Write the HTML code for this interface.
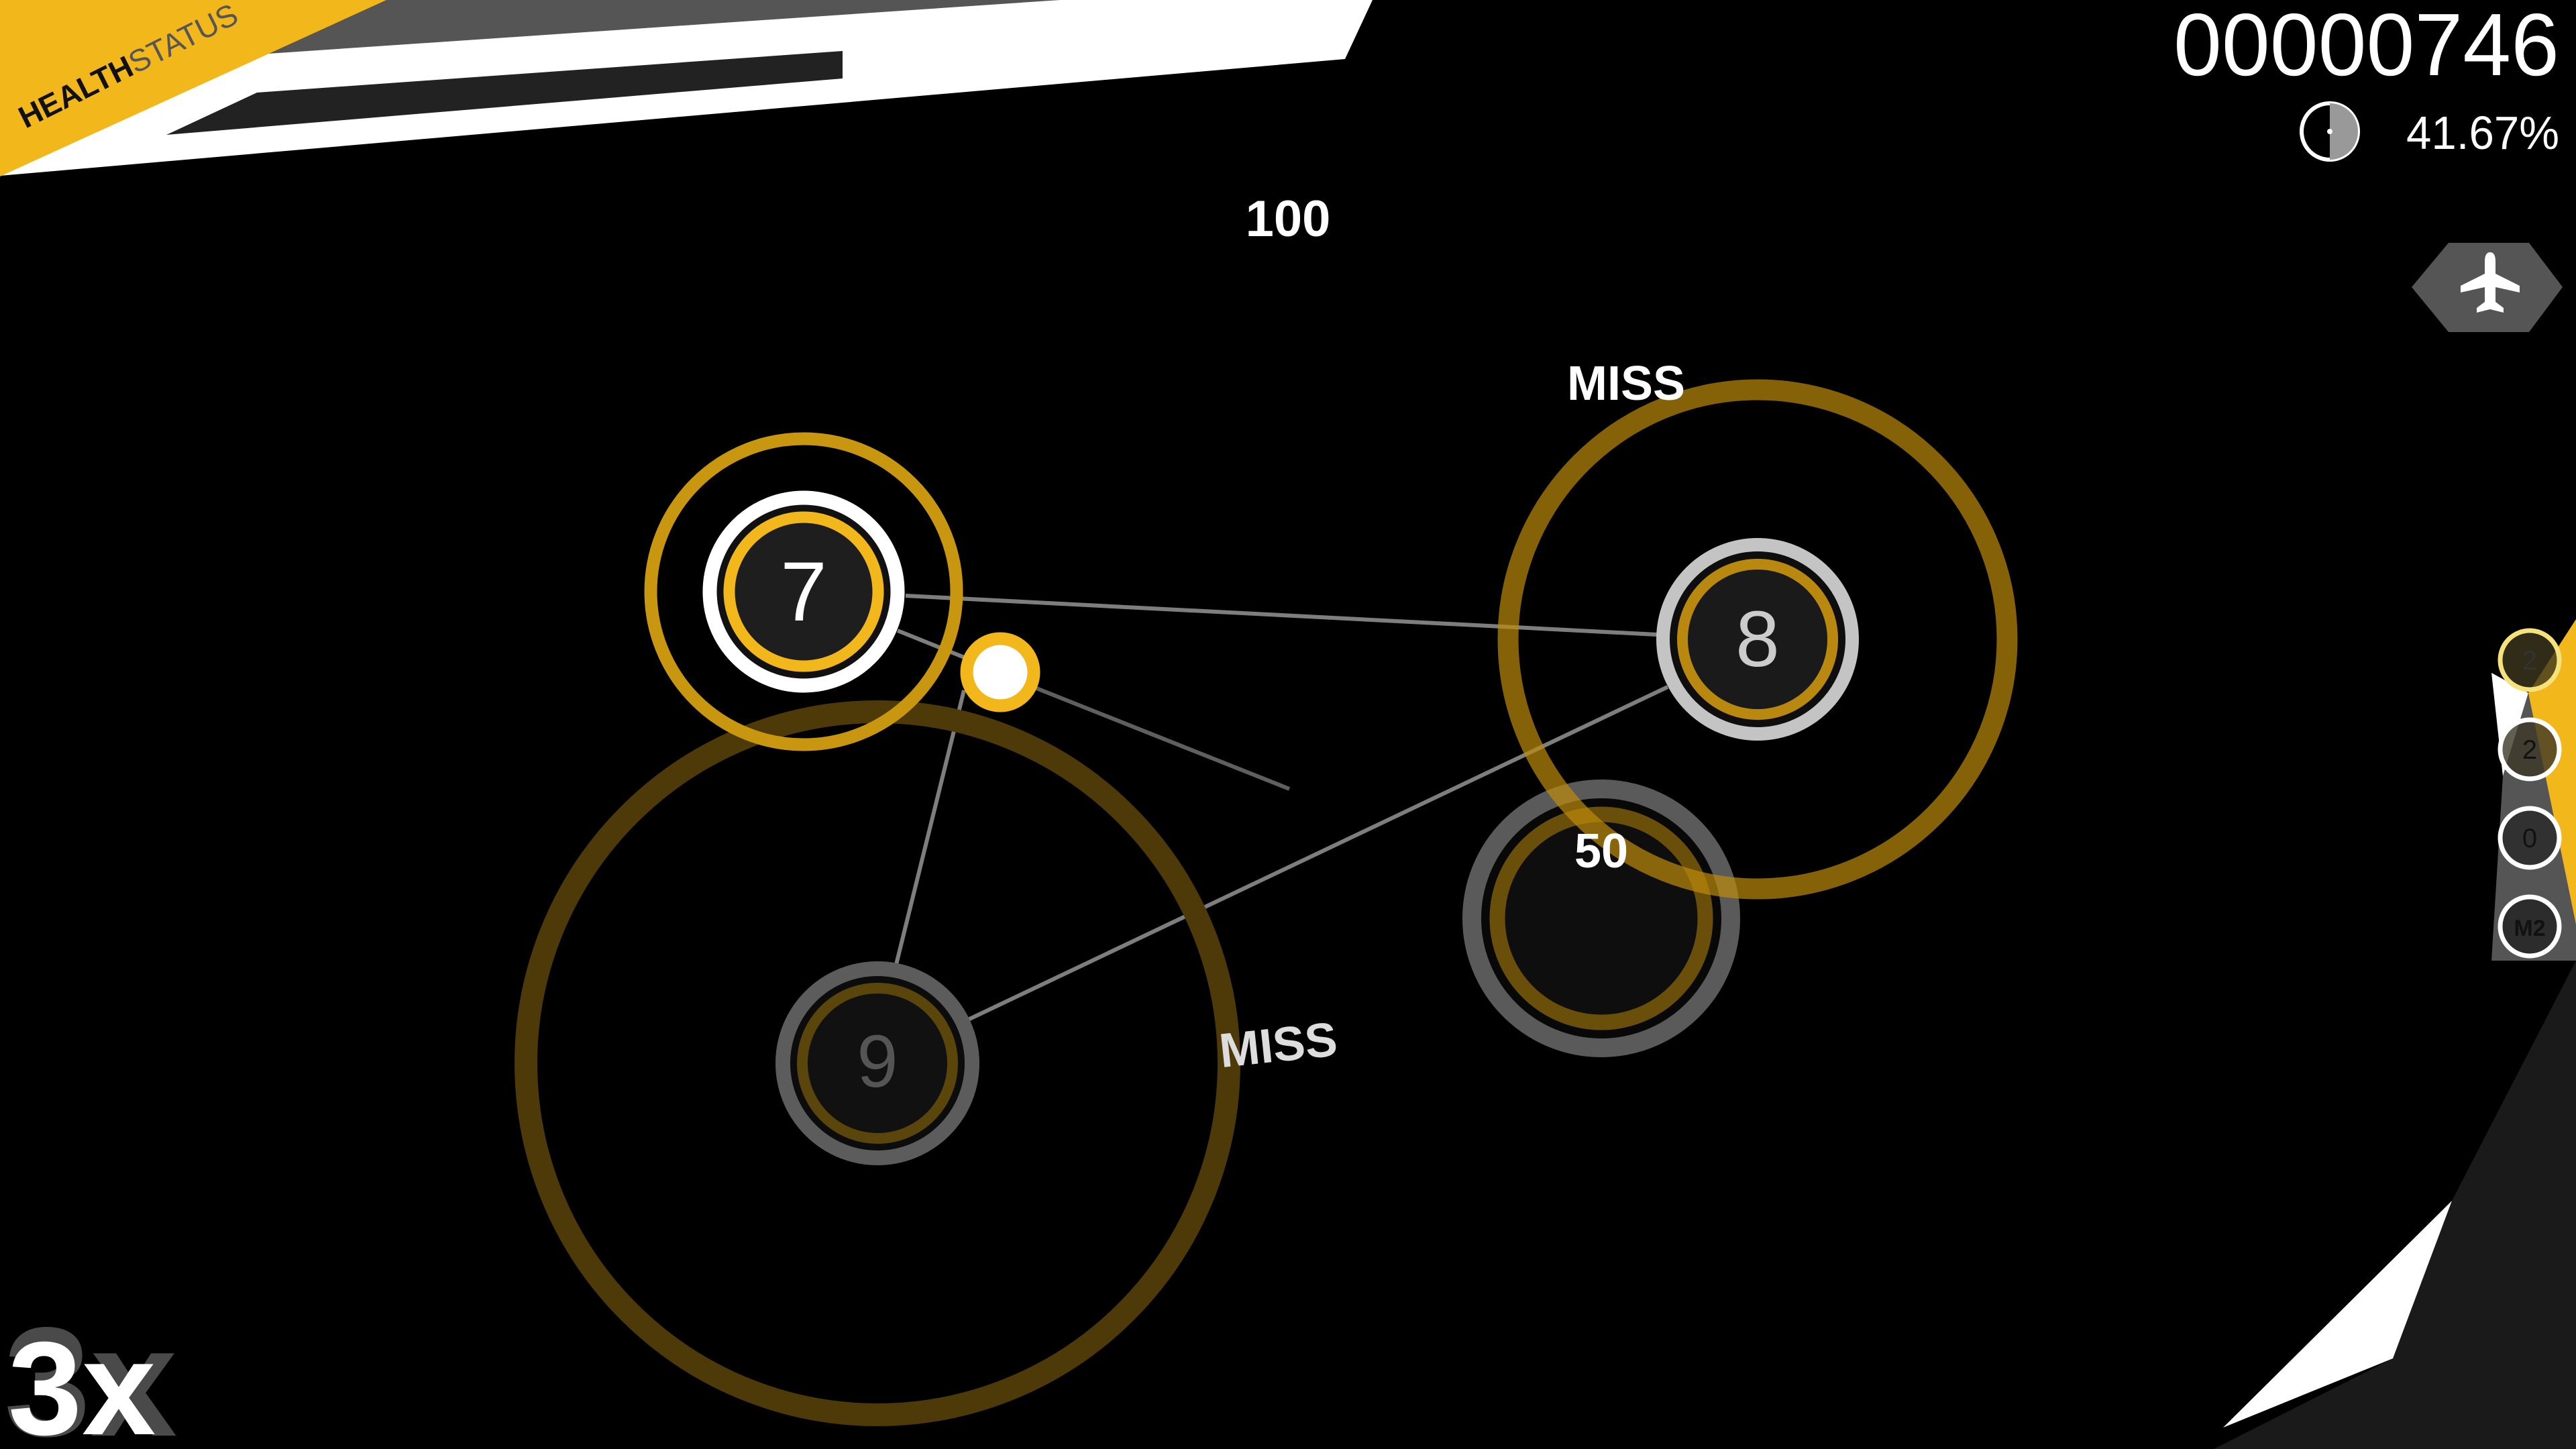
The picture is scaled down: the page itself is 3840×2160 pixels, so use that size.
<!DOCTYPE html>
<html><head><meta charset="utf-8"><style>
html,body{margin:0;padding:0;background:#000;width:3840px;height:2160px;overflow:hidden}
svg{display:block}
text{font-family:"Liberation Sans",sans-serif}
</style></head><body>
<svg width="3840" height="2160" viewBox="0 0 3840 2160" xmlns="http://www.w3.org/2000/svg">
<rect width="3840" height="2160" fill="#000"/>
<!-- health bar -->
<polygon points="0,0 2046,0 2005,88 0,262" fill="#fff"/>
<polygon points="400,0 1580,0 400,80" fill="#555"/>
<polygon points="383,138 1256,76 1256,117 248,201" fill="#222"/>
<polygon points="0,0 576,0 0,263" fill="#f2b71b"/>
<text transform="translate(38,192) rotate(-26.5)" font-size="46" fill="#111"><tspan font-weight="bold">HEALTH</tspan><tspan fill="#555">STATUS</tspan></text>

<!-- score -->
<text x="3815" y="112" text-anchor="end" font-size="132" fill="#fff" textLength="575" lengthAdjust="spacingAndGlyphs">00000746</text>
<text x="3815" y="222" text-anchor="end" font-size="70" fill="#fff" textLength="228" lengthAdjust="spacingAndGlyphs">41.67%</text>
<circle cx="3473" cy="196" r="42" fill="#000" stroke="#fff" stroke-width="6"/>
<path d="M3473,196 L3473,154 A42,42 0 0 1 3473,238 Z" fill="#999"/>
<circle cx="3473" cy="196" r="4" fill="#fff"/>

<!-- plane hex -->
<polygon points="3595,428 3650,362 3770,362 3820,428 3770,495 3650,495" fill="#555"/>
<path d="M3712,376 q8,0 8,14 v18 l36,18 v10 l-36,-8 v22 l12,9 v7 l-20,-5 -20,5 v-7 l12,-9 v-22 l-36,8 v-10 l36,-18 v-18 q0,-14 8,-14z" fill="#fff"/>

<!-- connectors -->
<g stroke="rgba(210,210,210,0.6)" stroke-width="6" fill="none">
<line x1="1350" y1="888" x2="2470" y2="946"/>
<line x1="1338" y1="940" x2="1450" y2="985"/>
<line x1="1530" y1="1020" x2="1922" y2="1176" stroke="rgba(210,210,210,0.45)"/>
<line x1="1437" y1="1029" x2="1322" y2="1494"/>
<line x1="1420" y1="1531" x2="2486" y2="1024"/>
</g>

<!-- circle 9 approach -->
<circle cx="1308" cy="1585" r="524" fill="none" stroke="#4d3a08" stroke-width="34"/>
<!-- circle 9 -->
<circle cx="1308" cy="1585" r="141" fill="#0c0c0c" stroke="#5c5c5c" stroke-width="22"/>
<circle cx="1308" cy="1585" r="112" fill="#111" stroke="#5a450a" stroke-width="16"/>
<text x="1308" y="1620" text-anchor="middle" font-size="110" fill="#555">9</text>

<!-- circle 50 -->
<circle cx="2387" cy="1369" r="193" fill="#080808" stroke="#5a5a5a" stroke-width="28"/>
<circle cx="2387" cy="1369" r="155" fill="#0e0e0e" stroke="#6a4f0a" stroke-width="23"/>

<!-- circle 8 approach -->
<circle cx="2620" cy="953" r="372" fill="none" stroke="rgba(190,140,10,0.7)" stroke-width="31"/>
<!-- circle 8 -->
<circle cx="2620" cy="953" r="141" fill="#0e0e0e" stroke="#c4c4c4" stroke-width="20"/>
<circle cx="2620" cy="953" r="112" fill="#1a1a1a" stroke="#b8880f" stroke-width="16"/>
<text x="2620" y="993" text-anchor="middle" font-size="118" fill="#ccc">8</text>

<!-- circle 7 approach -->
<circle cx="1198" cy="882" r="228" fill="none" stroke="#c8960f" stroke-width="19"/>
<!-- circle 7 -->
<circle cx="1198" cy="882" r="140" fill="#111" stroke="#fff" stroke-width="21"/>
<circle cx="1198" cy="882" r="111" fill="#1e1e1e" stroke="#f2b71b" stroke-width="17"/>
<text x="1198" y="925" text-anchor="middle" font-size="125" fill="#fff">7</text>

<!-- slider ball -->
<circle cx="1491" cy="1002" r="50" fill="#fff" stroke="#f2b71b" stroke-width="19"/>

<!-- judgements -->
<text x="1920" y="352" text-anchor="middle" font-size="76" font-weight="bold" fill="#fff">100</text>
<text x="2424" y="596" text-anchor="middle" font-size="72" font-weight="bold" fill="#fff">MISS</text>
<text x="2387" y="1293" text-anchor="middle" font-size="72" font-weight="bold" fill="#fff">50</text>
<text transform="translate(1908,1582) rotate(-6)" text-anchor="middle" font-size="72" font-weight="bold" fill="#ddd">MISS</text>

<!-- side mod panel -->
<polygon points="3714,1003 3769,1033 3731,1157" fill="#fff"/>
<polygon points="3731,1157 3769,1033 3840,1030 3840,1432 3714,1432" fill="#555"/>
<polygon points="3840,923 3769,1033 3840,1378" fill="#f2b71b"/>
<g font-size="40" text-anchor="middle" fill="#111">
<circle cx="3771" cy="984" r="44" fill="rgba(60,55,30,0.8)" stroke="#f5e27a" stroke-width="7"/>
<text x="3771" y="998" fill="#333">2</text>
<circle cx="3771" cy="1117" r="44" fill="rgba(60,55,40,0.8)" stroke="#fff" stroke-width="7"/>
<text x="3771" y="1131">2</text>
<circle cx="3771" cy="1249" r="44" fill="rgba(40,40,40,0.8)" stroke="#fff" stroke-width="7"/>
<text x="3771" y="1263">0</text>
<circle cx="3771" cy="1381" r="44" fill="rgba(40,40,40,0.9)" stroke="#fff" stroke-width="7"/>
<text x="3771" y="1395" font-size="34" font-weight="bold">M2</text>
</g>

<!-- bottom right -->
<polygon points="3840,1432 3655,1790 3567,2025 3300,2160 3840,2160" fill="#1a1a1a"/>
<polygon points="3314,2128 3655,1790 3567,2025" fill="#fff"/>

<!-- combo -->
<text x="6" y="2140" font-size="232" font-weight="bold" fill="#4a4a4a">3x</text>
<text x="12" y="2138" font-size="198" font-weight="bold" fill="#fff">3x</text>
</svg>
</body></html>
